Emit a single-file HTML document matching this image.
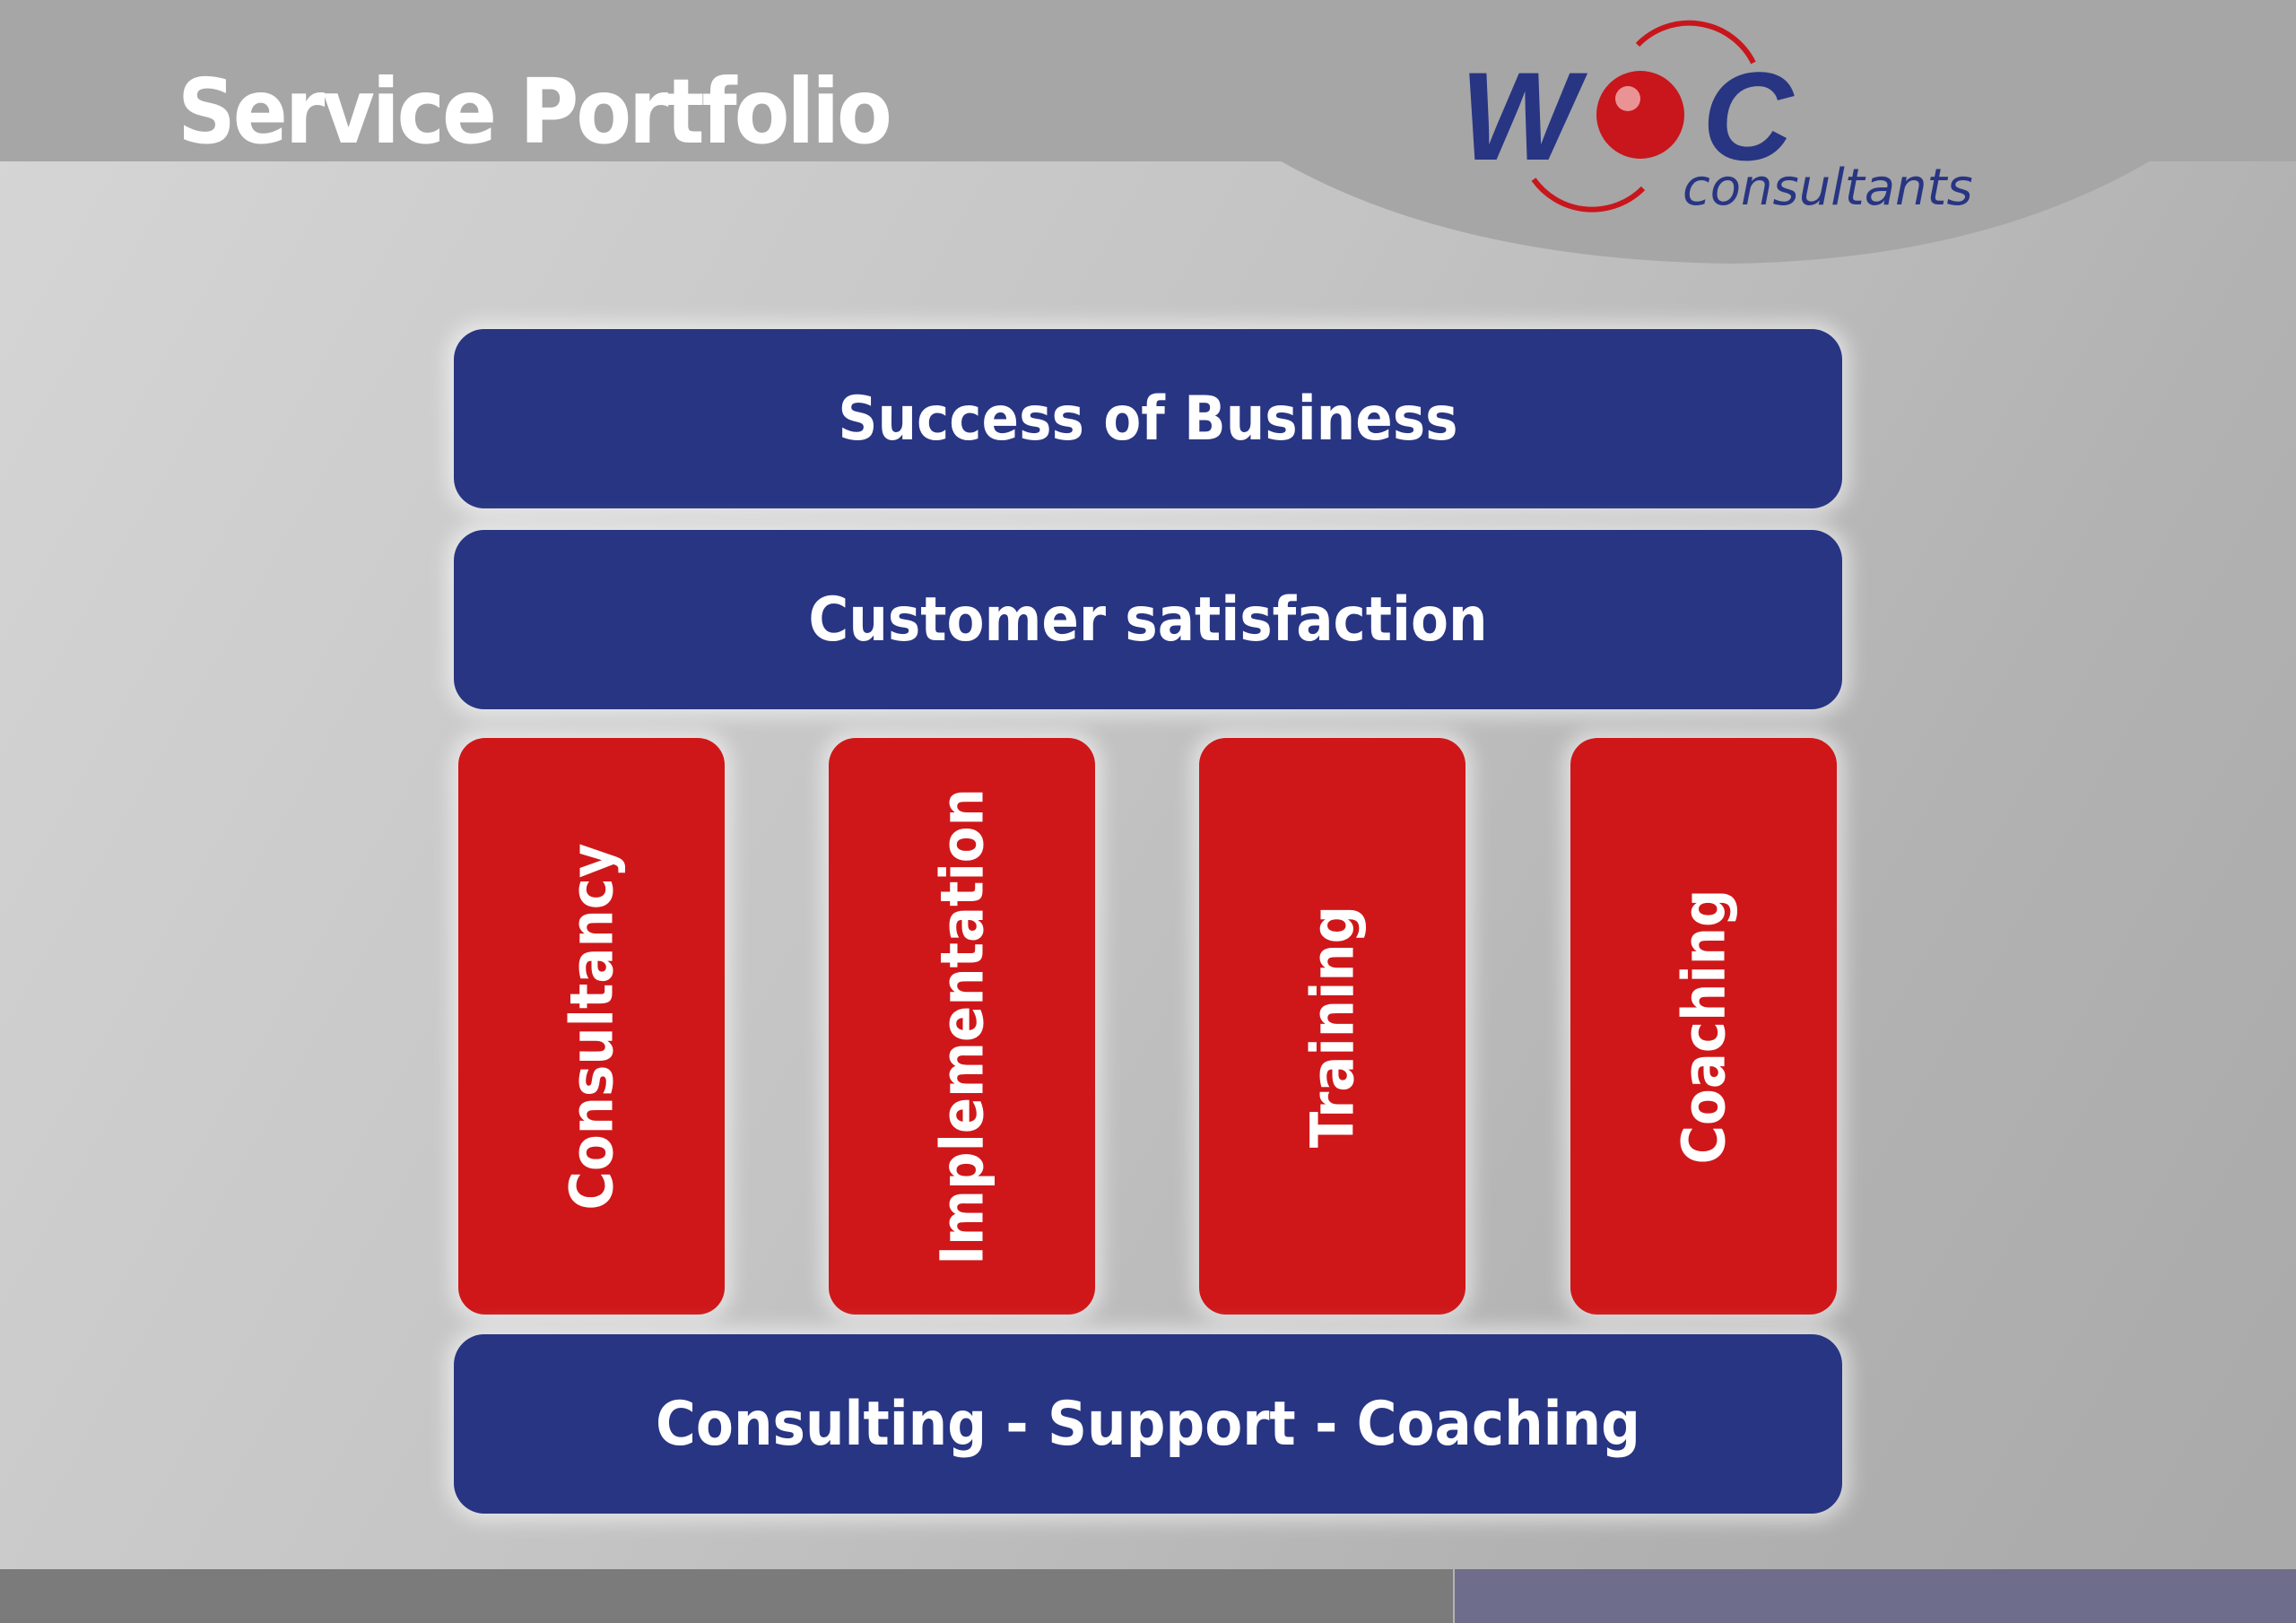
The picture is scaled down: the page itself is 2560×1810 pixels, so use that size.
<!DOCTYPE html>
<html><head><meta charset="utf-8"><style>
*{margin:0;padding:0;box-sizing:border-box}
body{width:2560px;height:1810px;overflow:hidden;position:relative;font-family:"DejaVu Sans","Liberation Sans",sans-serif;
background:linear-gradient(120deg,#d6d6d6 0%,#c4c4c4 45%,#b2b2b2 75%,#a9a9a9 100%)}
.hdr{position:absolute;left:0;top:0;width:2560px;height:180px;background:#a6a6a6}
.title{position:absolute;left:198px;top:66px;font-size:100px;font-weight:bold;color:#fff;letter-spacing:-3px;font-family:"DejaVu Sans Condensed","DejaVu Sans",sans-serif}
.blue{position:absolute;left:506px;width:1548px;height:200px;background:#283583;border-radius:34px;color:#fff;font-weight:bold;font-size:68px;display:flex;align-items:center;justify-content:center;box-shadow:0 0 22px 8px rgba(255,255,255,.55);font-family:"DejaVu Sans Condensed","DejaVu Sans",sans-serif}
.red{position:absolute;top:823px;width:297px;height:643px;background:#cf1719;border-radius:30px;box-shadow:0 0 22px 8px rgba(255,255,255,.55)}
.red span{position:absolute;left:50%;top:50%;transform:translate(-50%,-50%) rotate(-90deg);white-space:nowrap;color:#fff;font-weight:bold;font-size:66px;font-family:"DejaVu Sans Condensed","DejaVu Sans",sans-serif}
.f1{position:absolute;left:0;top:1750px;width:1620px;height:60px;background:#7b7b7b}
.f2{position:absolute;left:1622px;top:1750px;width:938px;height:60px;background:#6e6e8c}
</style></head><body>
<div class="hdr"></div>
<svg style="position:absolute;left:0;top:0" width="2560" height="320">
<path d="M1425 178 Q1620 290 1930 294 Q2210 290 2400 178 Z" fill="#a6a6a6"/>
<circle cx="1829" cy="128" r="49" fill="#c8161c"/>
<circle cx="1815" cy="110" r="14" fill="#f3b3b3" opacity=".8"/>
<path d="M1826 50 A80 80 0 0 1 1955 70" stroke="#c8161c" stroke-width="6" fill="none"/>
<path d="M1710 200 A80 80 0 0 0 1832 210" stroke="#c8161c" stroke-width="6" fill="none"/>
<text x="1628" y="178" font-family="Liberation Sans,sans-serif" font-style="italic" font-weight="bold" font-size="140" fill="#283583">W</text>
<text x="1898" y="178" font-family="Liberation Sans,sans-serif" font-style="italic" font-weight="bold" font-size="140" fill="#283583">C</text>
<text x="1876" y="228" font-family="DejaVu Sans,sans-serif" font-style="italic" font-size="56" fill="#283583">consultants</text>
</svg>
<div class="title">Service Portfolio</div>
<div class="blue" style="top:367px">Success of Business</div>
<div class="blue" style="top:591px">Customer satisfaction</div>
<div class="red" style="left:511px"><span>Consultancy</span></div>
<div class="red" style="left:924px"><span>Implementation</span></div>
<div class="red" style="left:1337px"><span>Training</span></div>
<div class="red" style="left:1751px"><span>Coaching</span></div>
<div class="blue" style="top:1488px">Consulting - Support - Coaching</div>
<div class="f1"></div><div class="f2"></div>
</body></html>
